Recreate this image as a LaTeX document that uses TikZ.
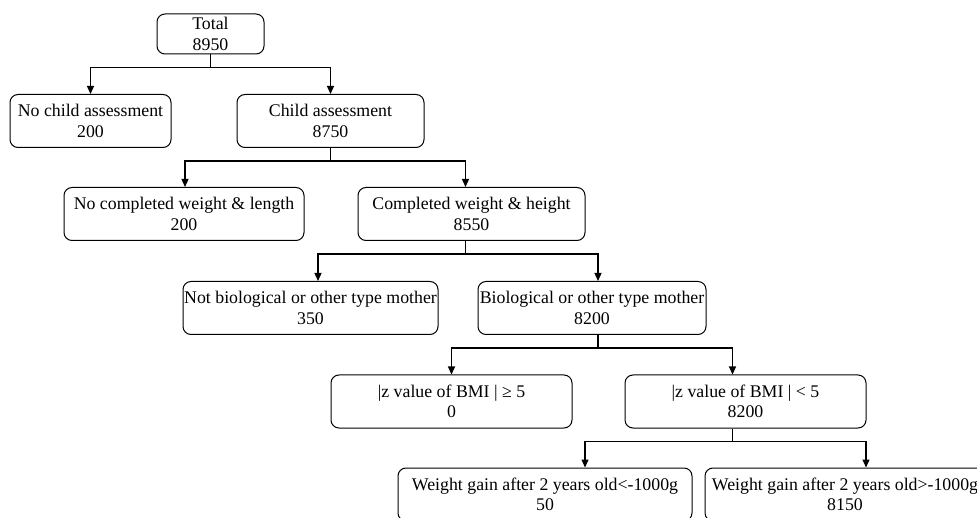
\documentclass[tikz,border=0pt]{standalone}
\usepackage{fontspec}
\setmainfont{Liberation Serif}
\usetikzlibrary{arrows.meta}

\begin{document}
\begin{tikzpicture}[x=1pt, y=-1pt,
    box/.style={draw, rounded corners=8pt, line width=1pt, align=center, inner sep=0pt,
        minimum height=53pt, font=\fontsize{17.8}{20.5}\selectfont},
    link/.style={line width=1.3pt, -{Triangle[length=8pt,width=7pt]}}]
    \useasboundingbox (0,0) rectangle (977,518);

    % Draw top box
    \node[box, minimum width=107pt, minimum height=40pt] (total) at (210.5,34) {Total\\8950};

    % Draw first split
    \node[box, minimum width=161pt] (nochild) at (90.5,121) {No child assessment\\200};
    \node[box, minimum width=187pt] (child) at (330.5,121) {Child assessment\\8750};

    % Draw second split
    \node[box, minimum width=240pt] (nocomp) at (184,214) {No completed weight \& length\\200};
    \node[box, minimum width=227pt] (comp) at (471.5,214) {Completed weight \& height\\8550};

    % Draw third split
    \node[box, minimum width=255pt] (notbio) at (310.5,308) {Not biological or other type mother\\350};
    \node[box, minimum width=228pt] (bio) at (592,308) {Biological or other type mother\\8200};

    % Draw fourth split
    \node[box, minimum width=241pt] (zhigh) at (451.5,401.5) {|z value of BMI | ≥ 5\\0};
    \node[box, minimum width=241pt] (zlow) at (745.5,401.5) {|z value of BMI | < 5\\8200};

    % Draw last split (cut by the page edge)
    \node[box, minimum width=294pt] (wlow) at (545,494.5) {Weight gain after 2 years old<-1000g\\50};
    \node[box, minimum width=280pt] (whigh) at (845,494.5) {Weight gain after 2 years old>-1000g\\8150};

    % Add connectors
    \foreach \from/\to/\fs/\ts in {total/nochild/0/0, total/child/0/0,
            child/nocomp/0/1, child/comp/0/-6,
            comp/notbio/-6/7.5, comp/bio/-6/6,
            bio/zhigh/6/0, bio/zlow/6/-13,
            zlow/wlow/-13/40, zlow/whigh/-13/21}
        \draw[link] ([xshift=\fs pt]\from.south) -- ++(0,13) -| ([xshift=\ts pt]\to.north);
\end{tikzpicture}
\end{document}
